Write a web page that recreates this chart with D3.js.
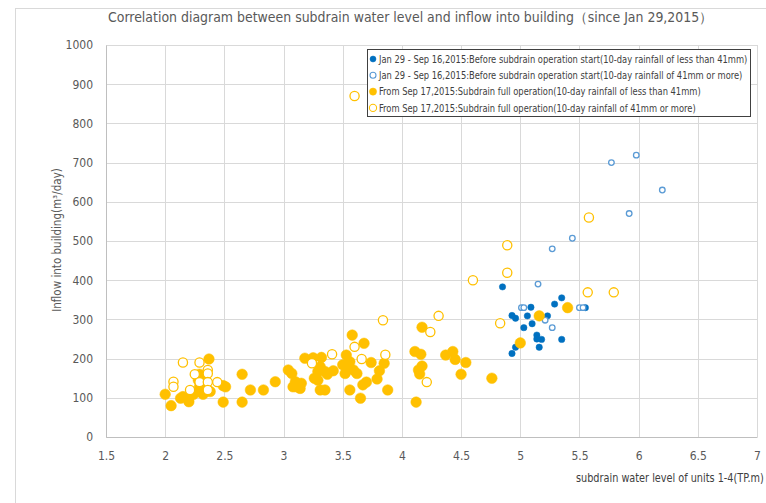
<!DOCTYPE html>
<html>
<head>
<meta charset="utf-8">
<script src="https://cdn.jsdelivr.net/npm/d3@7"></script>
<style>
  body { margin: 0; background: #fff; }
  svg { display: block; font-family: "Liberation Sans Narrow", "DejaVu Sans Condensed", "Open Sans", sans-serif; }
</style>
</head>
<body>
<svg id="chart" width="766" height="503"></svg>
<script>
// ---------- data (x = water level TP.m, y = inflow m3/day) ----------
const xTicks = [1.5, 2, 2.5, 3, 3.5, 4, 4.5, 5, 5.5, 6, 6.5, 7];
const yTicks = [0, 100, 200, 300, 400, 500, 600, 700, 800, 900, 1000];

const beforeLow = [
  [4.85,383],[5.35,355],[5.29,339],[5.55,330],[5.09,331],[4.93,310],[4.96,303],[5.06,309],[5.23,309],
  [5.10,289],[5.03,279],[5.14,260],[5.14,250],[5.18,249],[5.35,249],[5.16,229],[4.96,229],[4.93,213]
];
const beforeHigh = [
  [5.77,700],[5.98,719],[6.20,630],[5.92,570],[5.44,507],[5.27,480],[5.15,390],[5.01,330],[5.03,330],
  [5.50,330],[5.53,330],[5.21,298],[5.27,279]
];
const fullLow = [
  [2.00,109],[2.05,80],[2.13,99],[2.15,103],[2.20,90],[2.20,99],[2.24,109],[2.28,116],[2.32,109],[2.29,128],
  [2.32,141],[2.28,145],[2.34,116],[2.38,116],[2.29,160],[2.37,199],[2.49,131],[2.51,128],[2.49,89],[2.65,160],
  [2.65,89],[2.72,120],[2.83,120],[2.93,141],
  [3.04,171],[3.07,162],[3.10,141],[3.15,137],[3.11,128],[3.14,124],[3.08,128],[3.18,201],[3.25,202],[3.32,203],
  [3.31,179],[3.29,167],[3.35,167],[3.42,169],[3.26,150],[3.29,145],[3.31,120],[3.35,120],[3.37,160],
  [3.58,260],[3.53,209],[3.56,192],[3.50,184],[3.54,179],[3.59,171],[3.62,162],[3.52,162],[3.56,120],[3.67,133],
  [3.68,239],[3.65,99],[3.70,140],[3.79,148],[3.81,169],[3.85,188],[3.74,190],[3.88,120],
  [4.11,218],[4.16,211],[4.17,280],[4.17,181],[4.14,171],[4.15,161],[4.12,89],[4.37,209],[4.43,218],[4.45,198],
  [4.54,190],[4.50,160],[4.76,150],
  [5.00,240],[5.16,309],[5.40,330]
];
const fullHigh = [
  [2.15,190],[2.29,190],[2.36,171],[2.36,162],[2.25,160],[2.07,141],[2.07,128],[2.29,140],[2.36,140],[2.44,140],
  [2.21,120],[2.36,120],
  [3.24,188],[3.41,211],[3.60,230],[3.66,199],[3.86,210],[3.84,298],[4.24,268],[4.31,309],[4.21,140],[3.60,870],
  [4.60,400],[4.83,290],[4.89,489],[4.89,419],[5.57,369],[5.79,369],[5.58,560]
];

const series = [
  { name: 'Jan 29 - Sep 16,2015:Before subdrain operation start(10-day rainfall of less than 41mm)', data: beforeLow, color: '#0070C0', open: false, r: 3.2, lr: 3 },
  { name: 'Jan 29 - Sep 16,2015:Before subdrain operation start(10-day rainfall of 41mm or more)', data: beforeHigh, color: '#5B9BD5', open: true, r: 2.8, lr: 3 },
  { name: 'From Sep 17,2015:Subdrain full operation(10-day rainfall of less than 41mm)', data: fullLow, color: '#FFC000', open: false, r: 5.3, lr: 3.6 },
  { name: 'From Sep 17,2015:Subdrain full operation(10-day rainfall of 41mm or more)', data: fullHigh, color: '#FFC000', open: true, r: 4.6, lr: 3.6 }
];

// ---------- layout ----------
const svg = d3.select('#chart');
const plot = { left: 106, right: 757, top: 45, bottom: 437 };
const TEXT = '#595959';
const GRID = '#d9d9d9';

const x = d3.scaleLinear().domain([1.5, 7]).range([plot.left, plot.right]);
const y = d3.scaleLinear().domain([0, 1000]).range([plot.bottom, plot.top]);

// the reference font is narrower than the ones installed: squeeze a text horizontally to a width
function fitWidth(sel, x0, y0, width) {
  sel.each(function() {
    const w = this.getComputedTextLength();
    const k = Math.min(1, width / w);
    d3.select(this).attr('transform', `translate(${x0},${y0}) scale(${k},1)`);
  });
}

// chart area border
svg.append('rect')
  .attr('x', 15.5).attr('y', 8.5).attr('width', 800).attr('height', 600)
  .attr('fill', 'none').attr('stroke', GRID);

// title
svg.append('text')
  .attr('fill', TEXT).attr('font-size', 14.5)
  .text('Correlation diagram between subdrain water level and inflow into building（since Jan 29,2015）')
  .call(fitWidth, 108, 22, 607);

// grid
svg.append('g')
  .selectAll('line')
  .data(yTicks)
  .join('line')
  .attr('x1', plot.left).attr('x2', plot.right)
  .attr('y1', d => Math.round(y(d)) + 0.5).attr('y2', d => Math.round(y(d)) + 0.5)
  .attr('stroke', GRID);

svg.append('g')
  .selectAll('line')
  .data(xTicks)
  .join('line')
  .attr('y1', plot.top).attr('y2', plot.bottom)
  .attr('x1', d => Math.round(x(d)) + 0.5).attr('x2', d => Math.round(x(d)) + 0.5)
  .attr('stroke', GRID);

// axes
const xAxis = svg.append('g')
  .attr('transform', `translate(0,${plot.bottom})`)
  .call(d3.axisBottom(x).tickValues(xTicks).tickSize(0).tickPadding(14).tickFormat(d3.format('')));
const yAxis = svg.append('g')
  .attr('transform', `translate(${plot.left},0)`)
  .call(d3.axisLeft(y).tickValues(yTicks).tickSize(0).tickPadding(13).tickFormat(d3.format('')));

[xAxis, yAxis].forEach(g => {
  g.select('.domain').attr('stroke', '#bfbfbf');
  g.selectAll('text').attr('fill', TEXT).attr('font-size', 12)
    .attr('font-family', '"Liberation Sans Narrow", "DejaVu Sans Condensed", sans-serif');
});

// axis titles
svg.append('text')
  .attr('transform', 'translate(61,240) rotate(-90)')
  .attr('text-anchor', 'middle')
  .attr('fill', TEXT).attr('font-size', 11.5)
  .text('Inflow into building(m³/day)');

svg.append('text')
  .attr('fill', '#404040').attr('font-size', 11.5)
  .text('subdrain water level of units 1-4(TP.m)')
  .call(fitWidth, 576, 482, 188);

// points
series.forEach(s => {
  svg.append('g')
    .selectAll('circle')
    .data(s.data)
    .join('circle')
    .attr('cx', d => x(d[0]))
    .attr('cy', d => y(d[1]))
    .attr('r', s.r)
    .attr('fill', s.open ? '#fff' : s.color)
    .attr('stroke', s.color)
    .attr('stroke-width', s.open ? 1.3 : 0.5);
});

// legend
const legend = svg.append('g').attr('transform', 'translate(367,49)');
legend.append('rect')
  .attr('x', 0.5).attr('y', 0.5).attr('width', 383).attr('height', 67)
  .attr('fill', '#fff').attr('stroke', '#404040');

const rows = legend.selectAll('g.row')
  .data(series)
  .join('g')
  .attr('class', 'row')
  .attr('transform', (d, i) => `translate(0,${10 + i * 16.3})`);

rows.append('circle')
  .attr('cx', 6).attr('cy', 0)
  .attr('r', d => d.lr)
  .attr('fill', d => d.open ? '#fff' : d.color)
  .attr('stroke', d => d.color)
  .attr('stroke-width', d => d.open ? 1.1 : 0.5);

const labels = rows.append('text')
  .attr('dy', '0.35em')
  .attr('fill', '#404040').attr('font-size', 10.5)
  .text(d => d.name);

// one common squeeze so the longest label is about 369px, as in the reference
const widths = labels.nodes().map(n => n.getComputedTextLength());
const squeeze = Math.min(1, 369 / d3.max(widths));
labels.attr('transform', `translate(12,0) scale(${squeeze},1)`);
</script>
</body>
</html>
